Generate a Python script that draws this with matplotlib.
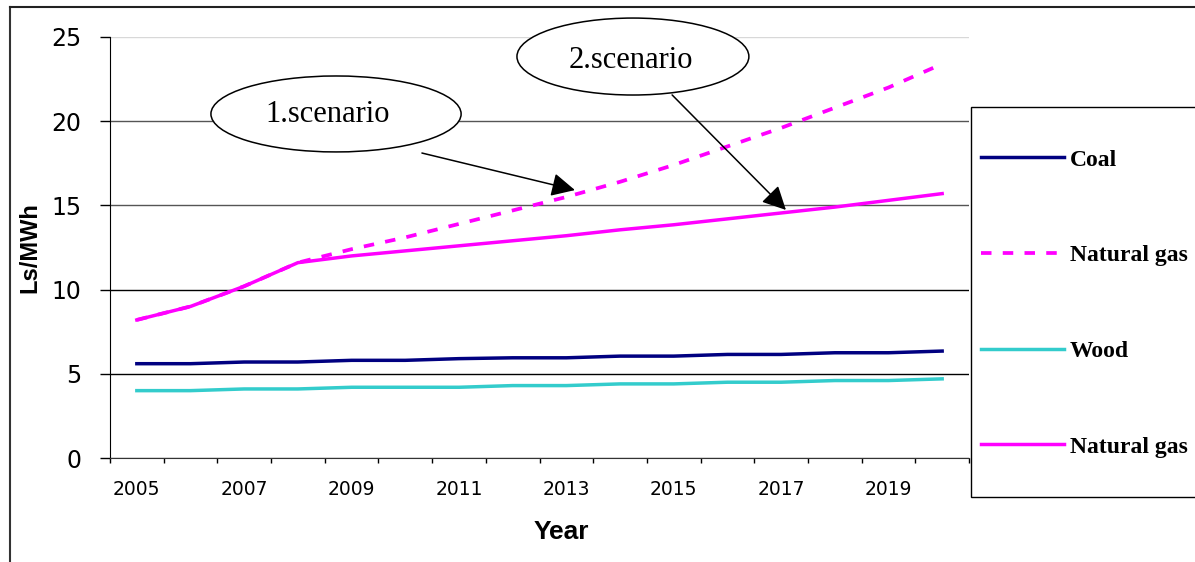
import numpy as np
import matplotlib
matplotlib.use('Agg')
import matplotlib.pyplot as plt
from matplotlib.patches import Ellipse, Rectangle
from matplotlib.lines import Line2D

#---------------------------------------------------------------------
# Fuel price forecast, Ls/MWh, 2005-2020
# Natural gas has two scenarios (dashed = 1., solid = 2.)
#---------------------------------------------------------------------

years = list(range(2005, 2021))

coal = [5.6, 5.6, 5.7, 5.7, 5.8, 5.8, 5.9, 5.95, 5.95, 6.05, 6.05, 6.15, 6.15, 6.25, 6.25, 6.35]
gas_1 = [8.2, 9.0, 10.2, 11.6, 12.4, 13.1, 13.9, 14.7, 15.5, 16.4, 17.4, 18.5, 19.6, 20.8, 22.0, 23.4]
wood = [4.0, 4.0, 4.1, 4.1, 4.2, 4.2, 4.2, 4.3, 4.3, 4.4, 4.4, 4.5, 4.5, 4.6, 4.6, 4.7]
gas_2 = [8.2, 9.0, 10.2, 11.6, 12.0, 12.3, 12.6, 12.9, 13.2, 13.55, 13.85, 14.2, 14.55, 14.9, 15.3, 15.7]

labels = ['Coal', 'Natural gas', 'Wood', 'Natural gas']

W, H = 1195, 562
fig = plt.figure(figsize=(W / 100, H / 100), dpi=100, facecolor='white')

def fx(px): return px / W
def fy(py): return 1 - py / H

ax = fig.add_axes([fx(110), fy(458), fx(969) - fx(110), fy(37) - fy(458)])

x = np.arange(len(years))
lw = 2.5
l_coal, = ax.plot(x, coal, color='#000080', lw=lw, zorder=3)
l_gas1, = ax.plot(x, gas_1, color='#FF00FF', lw=lw + 0.2, dashes=(2.8, 3.0), zorder=3)
l_wood, = ax.plot(x, wood, color='#33CCCC', lw=lw, zorder=3)
l_gas2, = ax.plot(x, gas_2, color='#FF00FF', lw=lw, zorder=3)

ax.set_xlim(-0.5, len(years) - 0.5)
ax.set_ylim(0, 25)

# y axis
ax.set_yticks([0, 5, 10, 15, 20, 25])
ax.tick_params(axis='y', direction='out', length=7.2, width=1, pad=13.5,
               labelsize=17, colors='black')
ax.yaxis.grid(True, color='#555555', lw=1)
ax.set_axisbelow(True)
gl = ax.yaxis.get_gridlines()
gl[-1].set_color('#d8d8d8')
gl[2].set_color('black')
gl[1].set_color('black')

# x axis: ticks between categories, labels every second year
ax.set_xticks(np.arange(-0.5, len(years), 1.0))
ax.set_xticklabels([])
ax.set_xticks(x[::2], minor=True)
ax.set_xticklabels([str(y) for y in years[::2]], minor=True)
ax.tick_params(axis='x', which='major', direction='out', length=3.6, width=1)
ax.tick_params(axis='x', which='minor', length=0, pad=15.5, labelsize=13.5)

for s in ['top', 'right']:
    ax.spines[s].set_visible(False)
ax.spines['left'].set_color('black')
ax.spines['bottom'].set_color('#333333')

ax.set_ylabel('Ls/MWh', family='Liberation Sans', weight='bold', fontsize=17)
ax.yaxis.set_label_coords(-0.080, 0.5)
ax.set_xlabel('Year', family='Liberation Sans', weight='bold', fontsize=19)
ax.xaxis.set_label_coords(0.525, -0.147)

# scenario callouts
serif = dict(family='Liberation Serif', fontsize=22, ha='center', va='center', zorder=6)
e1 = Ellipse((3.71, 20.43), 4.66, 4.51, facecolor='white', edgecolor='black', lw=1.1, zorder=5, clip_on=False)
e2 = Ellipse((9.24, 23.84), 4.32, 4.57, facecolor='white', edgecolor='black', lw=1.1, zorder=5, clip_on=False)
ax.add_patch(e1)
ax.add_patch(e2)
ax.text(3.56, 20.37, '1.scenario', **serif)
ax.text(9.20, 23.63, '2.scenario', **serif)

arrow = dict(arrowstyle='-|>,head_length=0.4,head_width=0.2', color='black', lw=1.1,
             mutation_scale=36, shrinkA=0, shrinkB=0)
ax.annotate('', xy=(8.16, 15.91), xytext=(5.31, 18.11), arrowprops=arrow, zorder=6)
ax.annotate('', xy=(12.09, 14.73), xytext=(9.97, 21.56), arrowprops=arrow, zorder=6)

# legend box (runs off the right edge)
fig.add_artist(Rectangle((fx(971), fy(497)), fx(1240) - fx(971), fy(107) - fy(497),
                         transform=fig.transFigure, facecolor='white', edgecolor='black', lw=1))
fig.legend([l_coal, l_gas1, l_wood, l_gas2], labels, loc='upper left',
           bbox_to_anchor=(fx(981), fy(149)), frameon=False, borderpad=0, borderaxespad=0,
           handlelength=3.5, handletextpad=0.26, labelspacing=3.14,
           prop=dict(family='Liberation Serif', weight='bold', size=17))

# outer frame
fig.add_artist(Line2D([fx(10), fx(10)], [0, fy(7)], transform=fig.transFigure, color='#333333', lw=1.5))
fig.add_artist(Line2D([fx(10), 1], [fy(7), fy(7)], transform=fig.transFigure, color='#222222', lw=1.5))

fig.savefig('out.png', dpi=100, facecolor='white')
